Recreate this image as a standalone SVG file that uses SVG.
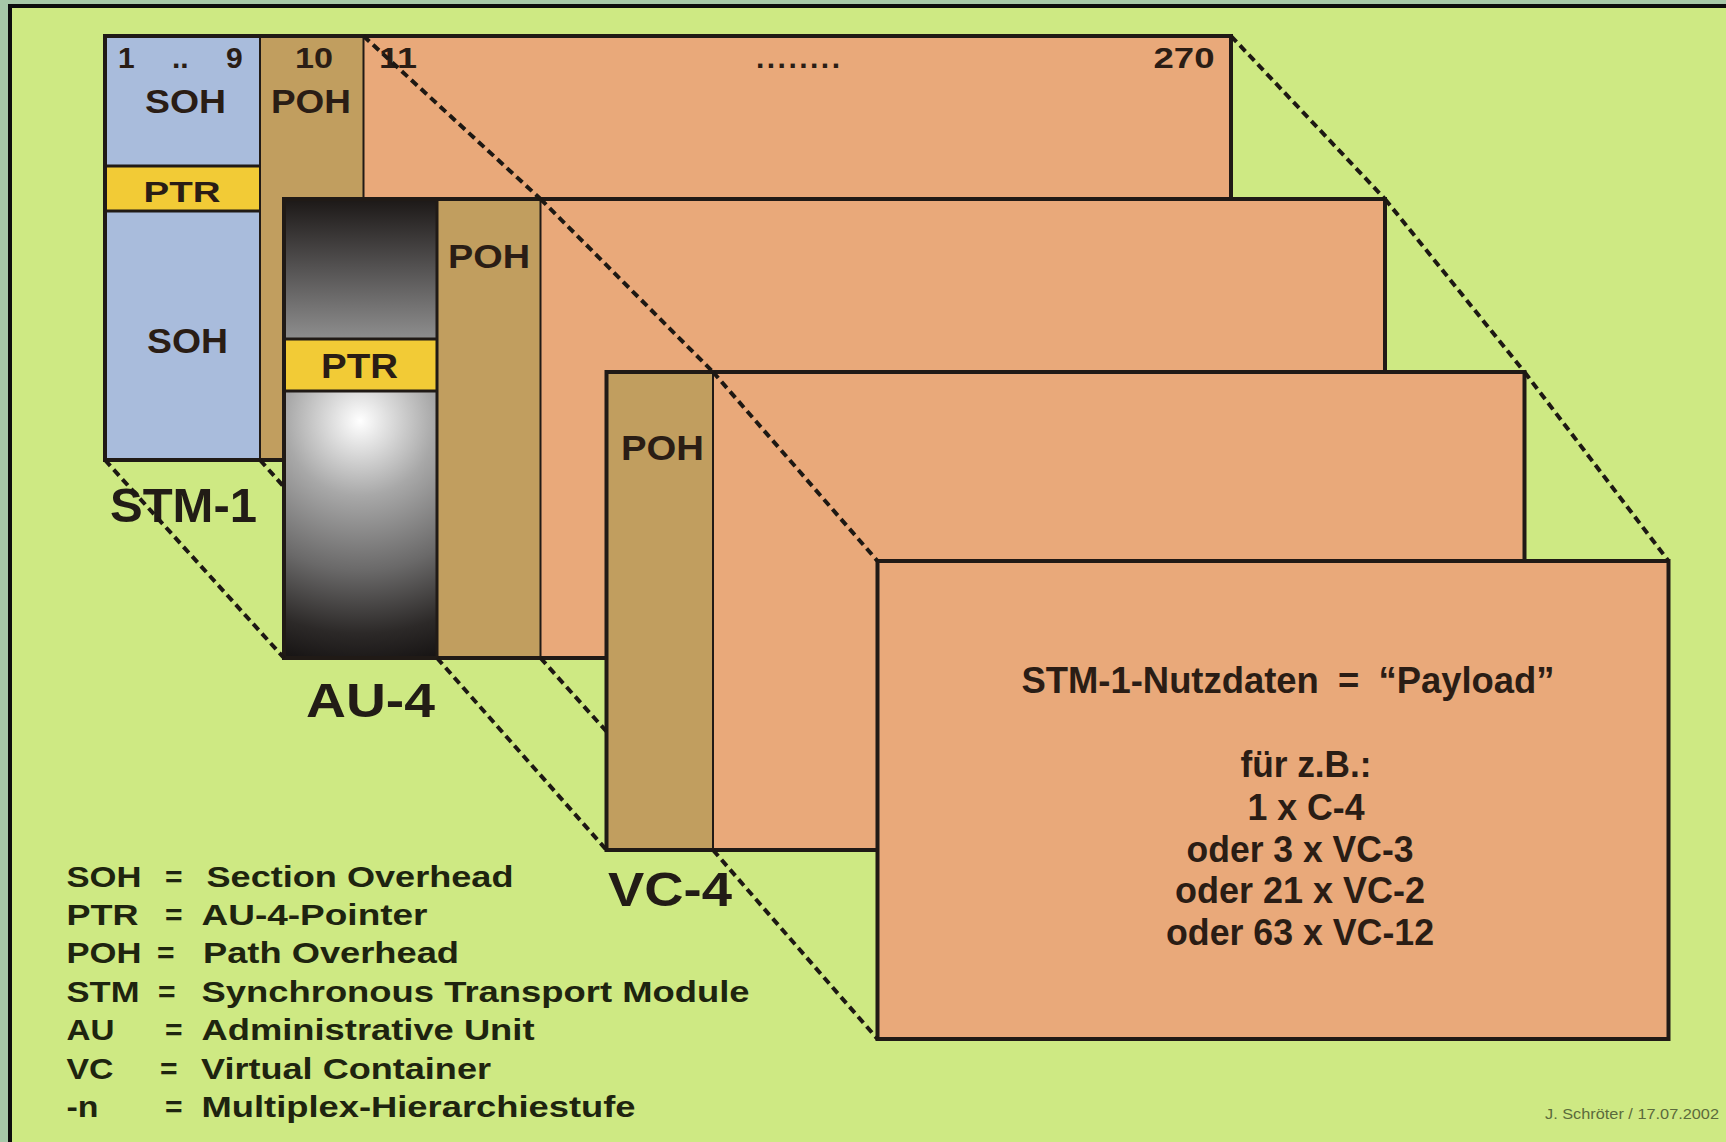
<svg xmlns="http://www.w3.org/2000/svg" width="1726" height="1142" viewBox="0 0 1726 1142">
<defs>
<style>
.soh{fill:#a9bcdc}
.poh{fill:#c19e5f}
.pay{fill:#e9a97a}
.ptr{fill:#f2cb36}
.frame{fill:none;stroke:#201a16;stroke-width:4}
.div{stroke:#201a16;stroke-width:2}
.div3{stroke:#201a16;stroke-width:3}
.lbl{font-family:"Liberation Sans",Arial,sans-serif;font-weight:bold;fill:#2a1d15}
.big{font-family:"Liberation Sans",Arial,sans-serif;font-weight:bold;fill:#221c16;font-size:49px}
.leg{font-family:"Liberation Sans",Arial,sans-serif;font-weight:bold;fill:#1e240f;font-size:30px}
.pl{font-family:"Liberation Sans",Arial,sans-serif;font-weight:bold;fill:#2a1d15;font-size:36px;text-anchor:middle}
.conn{fill:none;stroke:#1d1813;stroke-width:4;stroke-dasharray:8 5}
</style>
<linearGradient id="auTop" x1="0" y1="0" x2="0" y2="1">
<stop offset="0" stop-color="#1c1817"/>
<stop offset="0.5" stop-color="#555353"/>
<stop offset="1" stop-color="#8e8e8e"/>
</linearGradient>
<radialGradient id="auBot" gradientUnits="userSpaceOnUse" cx="360" cy="421" r="250" fx="360" fy="421">
<stop offset="0" stop-color="#ffffff"/>
<stop offset="0.1" stop-color="#e2e2e2"/>
<stop offset="0.3" stop-color="#a8a8a8"/>
<stop offset="0.6" stop-color="#6a6969"/>
<stop offset="0.85" stop-color="#2c2928"/>
<stop offset="1" stop-color="#151212"/>
</radialGradient>
</defs>

<g id="background">
<rect x="0" y="0" width="1726" height="1142" fill="#a7c8a8"/>
<rect x="8" y="4" width="1718" height="1138" fill="#0d0d0d"/>
<rect x="12" y="8" width="1714" height="1134" fill="#cee983"/>
</g>

<g id="stm1">
<rect x="105" y="36" width="155" height="424" class="soh"/>
<rect x="260" y="36" width="103.5" height="424" class="poh"/>
<rect x="363.5" y="36" width="867.5" height="424" class="pay"/>
<rect x="105" y="166" width="155" height="45" class="ptr"/>
<line x1="260" y1="36" x2="260" y2="460" class="div"/>
<line x1="363.5" y1="36" x2="363.5" y2="460" class="div"/>
<line x1="105" y1="166" x2="260" y2="166" class="div3"/>
<line x1="105" y1="211" x2="260" y2="211" class="div3"/>
<rect x="105" y="36" width="1126" height="424" class="frame"/>
<text class="lbl" font-size="30" y="68"><tspan x="118">1 </tspan><tspan x="172">.. </tspan><tspan x="226">9</tspan></text>
<text class="lbl" font-size="33" x="185.5" y="113" text-anchor="middle" textLength="81" lengthAdjust="spacingAndGlyphs">SOH</text>
<text class="lbl" font-size="30" x="314" y="68" text-anchor="middle" textLength="38" lengthAdjust="spacingAndGlyphs">10</text>
<text class="lbl" font-size="33" x="311" y="113" text-anchor="middle" textLength="80" lengthAdjust="spacingAndGlyphs">POH</text>
<text class="lbl" font-size="30" x="398" y="68" text-anchor="middle" textLength="38" lengthAdjust="spacingAndGlyphs">11</text>
<text class="lbl" font-size="30" x="798" y="68" text-anchor="middle" textLength="84" lengthAdjust="spacing">........</text>
<text class="lbl" font-size="30" x="1184" y="68" text-anchor="middle" textLength="61" lengthAdjust="spacingAndGlyphs">270</text>
<text class="lbl" font-size="30" x="182" y="201.5" text-anchor="middle" textLength="77" lengthAdjust="spacingAndGlyphs">PTR</text>
<text class="lbl" font-size="35" x="187.5" y="353" text-anchor="middle" textLength="81" lengthAdjust="spacingAndGlyphs">SOH</text>
</g>

<g id="au4">
<rect x="284" y="199" width="153" height="140" fill="url(#auTop)"/>
<rect x="284" y="339" width="153" height="52" class="ptr"/>
<rect x="284" y="391" width="153" height="267" fill="url(#auBot)"/>
<rect x="437" y="199" width="103.5" height="459" class="poh"/>
<rect x="540.5" y="199" width="844.5" height="459" class="pay"/>
<line x1="437" y1="199" x2="437" y2="658" class="div3"/>
<line x1="540.5" y1="199" x2="540.5" y2="658" class="div"/>
<line x1="284" y1="339" x2="437" y2="339" class="div3"/>
<line x1="284" y1="391" x2="437" y2="391" class="div3"/>
<rect x="284" y="199" width="1101" height="459" class="frame"/>
<text class="lbl" font-size="33" x="489" y="268" text-anchor="middle" textLength="82" lengthAdjust="spacingAndGlyphs">POH</text>
<text class="lbl" font-size="35" x="359.5" y="378" text-anchor="middle" textLength="77" lengthAdjust="spacingAndGlyphs">PTR</text>
</g>

<g id="vc4">
<rect x="606.5" y="372" width="106.5" height="478" class="poh"/>
<rect x="713" y="372" width="811.5" height="478" class="pay"/>
<line x1="713" y1="372" x2="713" y2="850" class="div"/>
<rect x="606.5" y="372" width="918" height="478" class="frame"/>
<text class="lbl" font-size="35" x="662.5" y="459.5" text-anchor="middle" textLength="83" lengthAdjust="spacingAndGlyphs">POH</text>
</g>

<g id="payload">
<rect x="877.5" y="561" width="791" height="478" class="pay"/>
<rect x="877.5" y="561" width="791" height="478" class="frame"/>
<text class="pl" x="1288" y="693" textLength="533" lengthAdjust="spacingAndGlyphs" style="word-spacing:9px">STM-1-Nutzdaten = “Payload”</text>
<text class="pl" x="1306" y="777" textLength="131" lengthAdjust="spacingAndGlyphs">für z.B.:</text>
<text class="pl" x="1306" y="820" textLength="117" lengthAdjust="spacingAndGlyphs">1 x C-4</text>
<text class="pl" x="1300" y="862" textLength="227" lengthAdjust="spacingAndGlyphs">oder 3 x VC-3</text>
<text class="pl" x="1300" y="903" textLength="250" lengthAdjust="spacingAndGlyphs">oder 21 x VC-2</text>
<text class="pl" x="1300" y="945" textLength="268" lengthAdjust="spacingAndGlyphs">oder 63 x VC-12</text>
</g>

<g id="labels">
<text class="big" x="110" y="521.5" textLength="147" lengthAdjust="spacingAndGlyphs">STM-1</text>
<text class="big" x="306" y="717" textLength="129" lengthAdjust="spacingAndGlyphs">AU-4</text>
<text class="big" x="608" y="906" textLength="124" lengthAdjust="spacingAndGlyphs">VC-4</text>
</g>

<g id="legend">
<text class="leg" x="66.5" y="886.5" textLength="75" lengthAdjust="spacingAndGlyphs">SOH</text>
<text class="leg" x="165" y="886.5">=</text>
<text class="leg" x="206.5" y="886.5" textLength="307" lengthAdjust="spacingAndGlyphs">Section Overhead</text>
<text class="leg" x="66.5" y="925" textLength="72" lengthAdjust="spacingAndGlyphs">PTR</text>
<text class="leg" x="165" y="925">=</text>
<text class="leg" x="201.5" y="925" textLength="226" lengthAdjust="spacingAndGlyphs">AU-4-Pointer</text>
<text class="leg" x="66.5" y="963" textLength="75" lengthAdjust="spacingAndGlyphs">POH</text>
<text class="leg" x="157" y="963">=</text>
<text class="leg" x="203" y="963" textLength="256" lengthAdjust="spacingAndGlyphs">Path Overhead</text>
<text class="leg" x="66.5" y="1001.5" textLength="73" lengthAdjust="spacingAndGlyphs">STM</text>
<text class="leg" x="158" y="1001.5">=</text>
<text class="leg" x="201.5" y="1001.5" textLength="548" lengthAdjust="spacingAndGlyphs">Synchronous Transport Module</text>
<text class="leg" x="66.5" y="1040" textLength="48" lengthAdjust="spacingAndGlyphs">AU</text>
<text class="leg" x="165" y="1040">=</text>
<text class="leg" x="201.5" y="1040" textLength="333" lengthAdjust="spacingAndGlyphs">Administrative Unit</text>
<text class="leg" x="66.5" y="1078.5" textLength="47" lengthAdjust="spacingAndGlyphs">VC</text>
<text class="leg" x="160" y="1078.5">=</text>
<text class="leg" x="201" y="1078.5" textLength="290" lengthAdjust="spacingAndGlyphs">Virtual Container</text>
<text class="leg" x="66.5" y="1117" textLength="32" lengthAdjust="spacingAndGlyphs">-n</text>
<text class="leg" x="165" y="1117">=</text>
<text class="leg" x="201.5" y="1117" textLength="434" lengthAdjust="spacingAndGlyphs">Multiplex-Hierarchiestufe</text>
</g>

<g id="credit">
<text x="1545" y="1119" font-family="'Liberation Sans',Arial,sans-serif" font-size="15" fill="#5b6a3c" textLength="174" lengthAdjust="spacingAndGlyphs">J. Schröter / 17.07.2002</text>
</g>

<g id="connectors">
<line class="conn" x1="105" y1="460" x2="284" y2="658"/>
<line class="conn" x1="260" y1="460" x2="284" y2="487"/>
<line class="conn" x1="363.5" y1="36" x2="540.5" y2="199"/>
<line class="conn" x1="1231" y1="36" x2="1385" y2="199"/>
<line class="conn" x1="437" y1="658" x2="606.5" y2="850"/>
<line class="conn" x1="540.5" y1="658" x2="606.5" y2="731.5"/>
<line class="conn" x1="540.5" y1="199" x2="713" y2="372"/>
<line class="conn" x1="1385" y1="199" x2="1524.5" y2="372"/>
<line class="conn" x1="713" y1="850" x2="877.5" y2="1039"/>
<line class="conn" x1="713" y1="372" x2="877.5" y2="561"/>
<line class="conn" x1="1524.5" y1="372" x2="1668.5" y2="561"/>
</g>
</svg>
